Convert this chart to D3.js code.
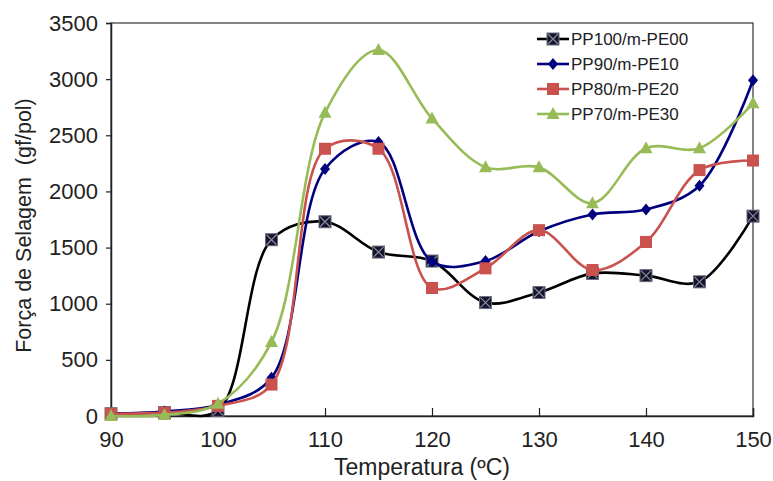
<!DOCTYPE html>
<html>
<head>
<meta charset="utf-8">
<script src="https://cdn.jsdelivr.net/npm/d3@7"></script>
<style>
  body { margin: 0; background: #fff; }
  text { font-family: "Liberation Sans", Arial, sans-serif; fill: #222; }
</style>
</head>
<body>
<div id="chart"></div>
<script>
// data
var temps = [90, 95, 100, 105, 110, 115, 120, 125, 130, 135, 140, 145, 150];
var pe00 = [20, 30, 50, 1570, 1730, 1460, 1380, 1010, 1100, 1270, 1250, 1195, 1780];
var pe10 = [20, 40, 100, 340, 2200, 2440, 1375, 1380, 1645, 1795, 1840, 2050, 2990];
var pe20 = [20, 30, 90, 280, 2380, 2380, 1140, 1315, 1655, 1300, 1550, 2190, 2275];
var pe30 = [0, 10, 110, 660, 2700, 3260, 2650, 2215, 2215, 1895, 2385, 2385, 2785];
var seriesNames = ["PP100/m-PE00", "PP90/m-PE10", "PP80/m-PE20", "PP70/m-PE30"];
var yTicks = [0, 500, 1000, 1500, 2000, 2500, 3000, 3500];
var xTicks = [90, 100, 110, 120, 130, 140, 150];

var width = 773, height = 481;
var margin = { top: 23, right: 20, bottom: 65, left: 111 };

var svg = d3.select('#chart')
    .append('svg')
    .attr('width', width)
    .attr('height', height);

var innerW = width - margin.left - margin.right;
var innerH = height - margin.top - margin.bottom;

var g = svg.append('g')
    .attr('transform', 'translate(' + margin.left + ',' + margin.top + ')');

var x_scale = d3.scaleLinear().domain([90, 150]).range([0, innerW]);
var y_scale = d3.scaleLinear().domain([0, 3500]).range([innerH, 0]);

// plot frame
g.append('rect')
    .attr('width', innerW)
    .attr('height', innerH)
    .attr('fill', 'none')
    .attr('stroke', '#333')
    .attr('stroke-width', 1.2);

var y_axis = d3.axisLeft(y_scale).tickValues(yTicks).tickFormat(d3.format('d')).tickSize(5).tickPadding(8);
var x_axis = d3.axisBottom(x_scale).tickValues(xTicks).tickFormat(d3.format('d')).tickSize(-8).tickPadding(15);

var gy = g.append('g').attr('class', 'y axis').call(y_axis);
var gx = g.append('g').attr('class', 'x axis')
    .attr('transform', 'translate(0,' + innerH + ')')
    .call(x_axis);

[gx, gy].forEach(function (a) {
    a.select('.domain').attr('stroke', '#222').attr('stroke-width', 1.5);
    a.selectAll('.tick line').attr('stroke', '#222').attr('stroke-width', 1.2);
    a.selectAll('.tick text')
        .style('font-size', '22px')
        .style('font-family', '"Liberation Sans", Arial, sans-serif')
        .attr('fill', '#222');
});
gx.selectAll('.tick text').attr('dy', '0.71em');

// axis titles
svg.append('text')
    .attr('x', margin.left + innerW / 2 - 10)
    .attr('y', 475)
    .attr('text-anchor', 'middle')
    .style('font-size', '23px')
    .text('Temperatura (ºC)');

svg.append('text')
    .attr('transform', 'translate(31,' + (margin.top + innerH / 2 + 6) + ') rotate(-90)')
    .attr('text-anchor', 'middle')
    .style('font-size', '21.5px')
    .style('white-space', 'pre')
    .text('Força de Selagem  (gf/pol)');

var colors = ['#000000', '#00007f', '#c9514e', '#97bb56'];
var markers = ['squareX', 'diamond', 'square', 'triangle'];
var allSeries = [pe00, pe10, pe20, pe30];

var line = d3.line()
    .x(function (d, i) { return x_scale(temps[i]); })
    .y(function (d) { return y_scale(d); })
    .curve(d3.curveCatmullRom.alpha(0.5));

function drawMarker(sel, type, color) {
    if (type === 'squareX') {
        sel.append('rect').attr('x', -6).attr('y', -6).attr('width', 12).attr('height', 12)
            .attr('fill', '#15152a').attr('stroke', '#6a6a80').attr('stroke-width', 1);
        sel.append('path').attr('d', 'M-5,-5L5,5M-5,5L5,-5')
            .attr('stroke', '#8a8aa0').attr('stroke-width', 1.2);
    } else if (type === 'diamond') {
        sel.append('path').attr('d', 'M0,-6L5,0L0,6L-5,0Z').attr('fill', color);
    } else if (type === 'square') {
        sel.append('rect').attr('x', -6).attr('y', -6).attr('width', 12).attr('height', 12)
            .attr('fill', color);
    } else {
        sel.append('path').attr('d', 'M0,-7L6.5,5L-6.5,5Z').attr('fill', color);
    }
}

allSeries.forEach(function (vals, s) {
    var sg = g.append('g');
    sg.append('path')
        .datum(vals)
        .attr('d', line)
        .attr('fill', 'none')
        .attr('stroke', colors[s])
        .attr('stroke-width', 2.6);
    sg.selectAll('.pt')
        .data(vals)
        .enter()
        .append('g')
        .attr('transform', function (d, i) {
            return 'translate(' + x_scale(temps[i]) + ',' + y_scale(d) + ')';
        })
        .each(function () { drawMarker(d3.select(this), markers[s], colors[s]); });
});

// legend
var legend = svg.append('g').attr('transform', 'translate(537,39)');
seriesNames.forEach(function (name, i) {
    var row = legend.append('g').attr('transform', 'translate(0,' + (i * 25) + ')');
    row.append('line')
        .attr('x1', 0).attr('x2', 32)
        .attr('stroke', colors[i]).attr('stroke-width', 2.6);
    var m = row.append('g').attr('transform', 'translate(16,0)');
    drawMarker(m, markers[i], colors[i]);
    row.append('text')
        .attr('x', 34)
        .attr('dy', '0.35em')
        .style('font-size', '17px')
        .text(name);
});
</script>
</body>
</html>
